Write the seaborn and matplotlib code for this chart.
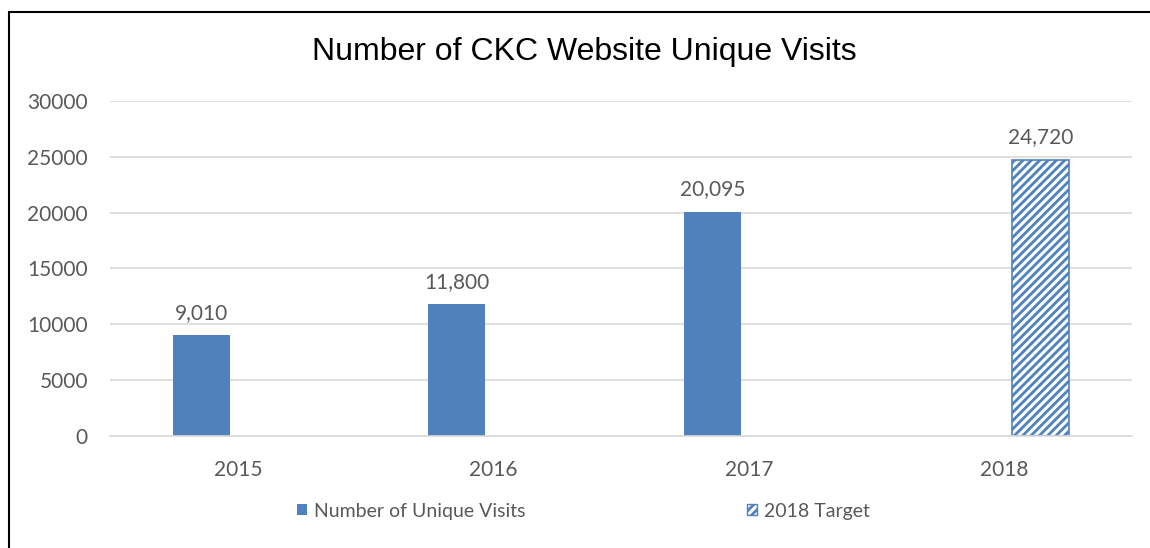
import matplotlib
matplotlib.use("Agg")
import matplotlib.pyplot as plt
from matplotlib.patches import Rectangle, Patch
import seaborn as sns
import pandas as pd

# Chart data
years = ["2015", "2016", "2017", "2018"]
series_names = ["Number of Unique Visits", "2018 Target"]
visits = [9010, 11800, 20095, None]
target = [None, None, None, 24720]
y_ticks = [0, 5000, 10000, 15000, 20000, 25000, 30000]

rows = []
for yr, v in zip(years, visits):
    if v is not None:
        rows.append({"year": yr, "series": series_names[0], "value": v})
for yr, v in zip(years, target):
    if v is not None:
        rows.append({"year": yr, "series": series_names[1], "value": v})
df = pd.DataFrame(rows)

sns.set_theme(style="white")
plt.rcParams["font.family"] = ["Lato", "DejaVu Sans"]
plt.rcParams["hatch.linewidth"] = 2.0

BLUE = "#4F81BD"
GREY_TEXT = "#595959"
GRID = "#D9D9D9"
HATCH = "////"

fig = plt.figure(figsize=(11.5, 5.48), dpi=100)
ax = fig.add_axes([0.0957, 0.2044, 0.8887, 0.6113])

sns.barplot(data=df, x="year", y="value", hue="series", order=years,
            hue_order=series_names, palette=[BLUE, BLUE], width=0.573,
            gap=0.22, dodge=True, errorbar=None, legend=False, ax=ax,
            saturation=1)

# Style the target bar with a diagonal hatch
for container, name in zip(ax.containers, series_names):
    for bar in container:
        if name == series_names[1]:
            bar.set_facecolor("white")
            bar.set_edgecolor(BLUE)
            bar.set_hatch(HATCH)
            bar.set_linewidth(1.2)
        else:
            bar.set_edgecolor("none")
    labels = [f"{int(b.get_height()):,}" if b.get_height() == b.get_height() else ""
              for b in container]
    ax.bar_label(container, labels=labels, padding=9, fontsize=15,
                 color=GREY_TEXT)

ax.set_ylim(0, 30000)
ax.set_yticks(y_ticks)
ax.set_yticklabels([str(t) for t in y_ticks])
ax.set_xlim(-0.5, 3.5)
ax.yaxis.grid(True, color=GRID, linewidth=1.2)
ax.set_axisbelow(True)
for side in ["left", "right", "top"]:
    ax.spines[side].set_visible(False)
ax.spines["bottom"].set_color(GRID)
ax.spines["bottom"].set_linewidth(1.2)
ax.tick_params(axis="both", length=0, labelsize=15, labelcolor=GREY_TEXT)
ax.tick_params(axis="y", pad=16)
ax.tick_params(axis="x", pad=17)
ax.set_xlabel("")
ax.set_ylabel("")

fig.text(0.508, 0.905, "Number of CKC Website Unique Visits",
         ha="center", va="center", fontsize=23, color="black",
         family=["Liberation Sans", "DejaVu Sans"])

handles = [Patch(facecolor=BLUE, edgecolor="none"),
           Patch(facecolor="white", edgecolor=BLUE, hatch=HATCH)]
fig.legend(handles, series_names, loc="center", bbox_to_anchor=(0.507, 0.0675),
           ncol=2, frameon=False, fontsize=14, labelcolor=GREY_TEXT,
           handlelength=0.52, handleheight=0.52, handletextpad=0.35,
           columnspacing=11.4)

# Outer frame
fig.patches.append(Rectangle((9 / 1150, -0.1), 1.2, 1 - 12 / 548 + 0.1,
                             transform=fig.transFigure, fill=False,
                             edgecolor="black", linewidth=1.5, zorder=10))

fig.savefig("out.png", dpi=100, facecolor="white")
